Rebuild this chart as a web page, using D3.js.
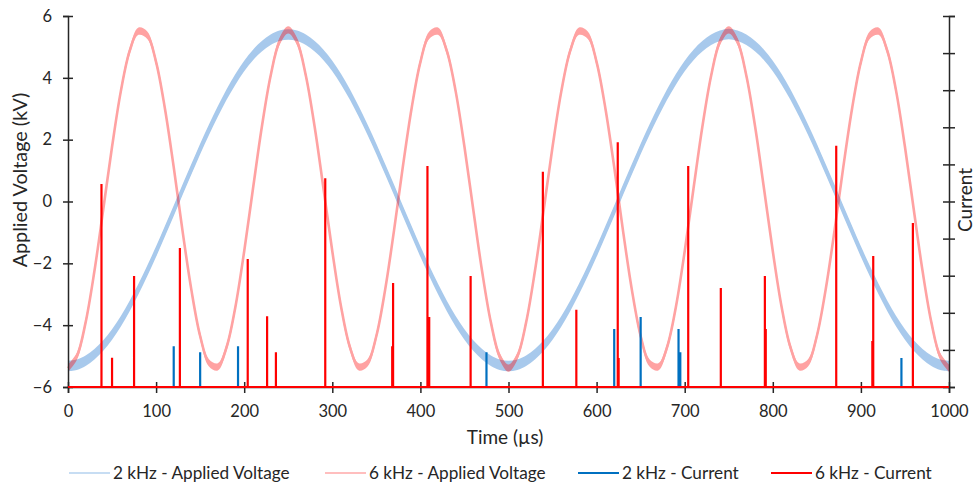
<!DOCTYPE html>
<html><head><meta charset="utf-8">
<script src="https://cdn.jsdelivr.net/npm/d3@7"></script>
<style>
body{margin:0;background:#fff}
svg{display:block}
text{font-family:Lato,"Open Sans",sans-serif;fill:#262626}
</style>
</head><body>
<svg id="chart" width="975" height="487"></svg>
<script>
// ---- data ----
const timeStepUs = 10; // voltage samples every 10 µs, t = 0 … 1000 µs
const voltage2kHz = [
 -5.32,-5.28,-5.15,-4.94,-4.66,-4.30,-3.87,-3.38,-2.83,-2.24,-1.62,-0.96,-0.30,0.38,1.04,1.70,2.32,2.91,3.46,3.95,
 4.38,4.74,5.02,5.23,5.36,5.40,5.36,5.23,5.02,4.74,4.38,3.95,3.46,2.91,2.32,1.70,1.04,0.38,-0.30,-0.96,
 -1.62,-2.24,-2.83,-3.38,-3.87,-4.30,-4.66,-4.94,-5.15,-5.28,-5.32,-5.28,-5.15,-4.94,-4.66,-4.30,-3.87,-3.38,-2.83,-2.24,
 -1.62,-0.96,-0.30,0.38,1.04,1.70,2.32,2.91,3.46,3.95,4.38,4.74,5.02,5.23,5.36,5.42,5.36,5.23,5.02,4.74,
 4.38,3.95,3.46,2.91,2.32,1.70,1.04,0.38,-0.30,-0.96,-1.62,-2.24,-2.83,-3.38,-3.87,-4.30,-4.66,-4.94,-5.15,-5.28,-5.32
];
const voltage6kHz = [
 -5.39,-5.01,-3.91,-2.25,-0.26,1.77,3.57,4.87,5.51,5.38,4.51,3.01,1.11,-0.95,-2.85,-4.35,-5.22,-5.35,-4.71,-3.41,
 -1.61,0.42,2.41,4.07,5.17,5.55,5.17,4.07,2.41,0.42,-1.61,-3.41,-4.71,-5.35,-5.22,-4.35,-2.85,-0.95,1.11,3.01,
 4.51,5.38,5.51,4.87,3.57,1.77,-0.26,-2.25,-3.91,-5.01,-5.39,-5.01,-3.91,-2.25,-0.26,1.77,3.57,4.87,5.51,5.38,
 4.51,3.01,1.11,-0.95,-2.85,-4.35,-5.22,-5.35,-4.71,-3.41,-1.61,0.42,2.41,4.07,5.17,5.55,5.17,4.07,2.41,0.42,
 -1.61,-3.41,-4.71,-5.35,-5.22,-4.35,-2.85,-0.95,1.11,3.01,4.51,5.38,5.51,4.87,3.57,1.77,-0.26,-2.25,-3.91,-5.01,-5.39
];
// current pulses (time µs, height in right-axis units 0…10)
const current2kHzTimes  = [120, 150, 193, 475, 620, 650, 693, 695, 946];
const current2kHzValues = [1.10, 0.94, 1.10, 0.94, 1.56, 1.89, 1.56, 0.94, 0.78];
const current6kHzTimes  = [38, 50, 75, 127, 204, 226, 236, 292, 368, 369, 408, 410, 457, 539, 577, 624, 625, 704, 741, 791, 792, 872, 913, 914, 959];
const current6kHzValues = [5.47, 0.79, 2.99, 3.75, 3.45, 1.91, 0.94, 5.63, 1.10, 2.80, 5.96, 1.89, 2.99, 5.80, 2.08, 6.60, 0.78, 5.96, 2.67, 2.99, 1.56, 6.50, 1.24, 3.53, 4.42];
const timeTicks = [0,100,200,300,400,500,600,700,800,900,1000];
const voltageTicks = [-6,-4,-2,0,2,4,6];
const currentTicks = [0,1,2,3,4,5,6,7,8,9,10];
const seriesNames = ["2 kHz - Applied Voltage","6 kHz - Applied Voltage","2 kHz - Current","6 kHz - Current"];
const seriesColors = ["#4a90d9","#ff0000","#0070c0","#ff0000"];

// ---- layout ----
const svg = d3.select("#chart");
const plotL = 68, plotR = 949, plotT = 16, plotB = 387;
const x = d3.scaleLinear().domain([0,1000]).range([plotL,plotR]);
const y = d3.scaleLinear().domain([-6,6]).range([plotB,plotT]);
const yc = d3.scaleLinear().domain([0,10]).range([plotB,plotT]);
const axisColor = "#262626";

// voltage ribbons
function ribbon(values, color, opacity, halfBand, sw){
  const pts = values.map((v,i)=>({t:i*timeStepUs, v}));
  const g = svg.append("g").attr("opacity", opacity);
  g.append("path").datum(pts)
    .attr("fill", color)
    .attr("d", d3.area().curve(d3.curveCatmullRom).x(d=>x(d.t)).y0(d=>y(d.v-halfBand)).y1(d=>y(d.v+halfBand)));
  g.append("path").datum(pts)
    .attr("fill","none").attr("stroke", color).attr("stroke-width", sw).attr("stroke-linejoin","round")
    .attr("d", d3.line().curve(d3.curveCatmullRom).x(d=>x(d.t)).y(d=>y(d.v)));
}
ribbon(voltage2kHz, seriesColors[0], 0.48, 0.17, 3);
ribbon(voltage6kHz, seriesColors[1], 0.36, 0.12, 2.6);

// axes
function styleAxis(g, crossIn, crossOut, vertical){
  g.select(".domain").attr("stroke", axisColor).attr("stroke-width", 1.5);
  g.selectAll(".tick line").attr("stroke", axisColor).attr("stroke-width", 1.5)
    .attr(vertical ? "x1" : "y1", crossIn).attr(vertical ? "x2" : "y2", crossOut);
}
const gx = svg.append("g").attr("transform",`translate(0,${plotB})`)
  .call(d3.axisBottom(x).tickValues(timeTicks).tickFormat(d3.format("d")).tickSizeOuter(0).tickSize(6).tickPadding(12));
styleAxis(gx, -5, 6, false);
gx.selectAll(".tick text").attr("font-size", 16.5).attr("font-family","Lato").attr("fill",axisColor);

const gy = svg.append("g").attr("transform",`translate(${plotL},0)`)
  .call(d3.axisLeft(y).tickValues(voltageTicks).tickSizeOuter(0).tickSize(5).tickPadding(11));
styleAxis(gy, 5, -5, true);
gy.selectAll(".tick text").attr("font-size", 16.5).attr("font-family","Lato").attr("fill",axisColor);

const gr = svg.append("g").attr("transform",`translate(${plotR},0)`)
  .call(d3.axisRight(yc).tickValues(currentTicks).tickFormat("").tickSizeOuter(0).tickSize(6));
styleAxis(gr, -6, 6, true);

// current pulses
function pulses(times, values, color){
  const pts = [{t:0,c:0}];
  times.forEach((t,i)=>{ pts.push({t,c:0},{t,c:values[i]},{t,c:0}); });
  pts.push({t:1000,c:0});
  svg.append("path").datum(pts)
    .attr("fill","none").attr("stroke",color).attr("stroke-width",2.2).attr("stroke-linejoin","miter")
    .attr("d", d3.line().x(d=>x(d.t)).y(d=>yc(d.c)));
}
pulses(current2kHzTimes, current2kHzValues, seriesColors[2]);
pulses(current6kHzTimes, current6kHzValues, seriesColors[3]);

// titles
svg.append("text").attr("x", 505).attr("y", 444).attr("text-anchor","middle")
  .attr("font-size", 19).text("Time (µs)");
svg.append("text").attr("transform","translate(27,180) rotate(-90)").attr("text-anchor","middle")
  .attr("font-size", 19.8).text("Applied Voltage (kV)");
svg.append("text").attr("transform","translate(972,200) rotate(-90)").attr("text-anchor","middle")
  .attr("font-size", 19).text("Current");

// legend
const legendX = [69, 325, 578, 771];
const legendOpacity = [0.3, 0.25, 1, 1];
const lg = svg.append("g");
seriesNames.forEach((name,i)=>{
  lg.append("line").attr("x1",legendX[i]).attr("x2",legendX[i]+41).attr("y1",473).attr("y2",473)
    .attr("stroke",seriesColors[i]).attr("stroke-width",2.2).attr("opacity",legendOpacity[i]);
  lg.append("text").attr("x",legendX[i]+44).attr("y",479).attr("font-size",17.2).text(name);
});
</script>
</body></html>
